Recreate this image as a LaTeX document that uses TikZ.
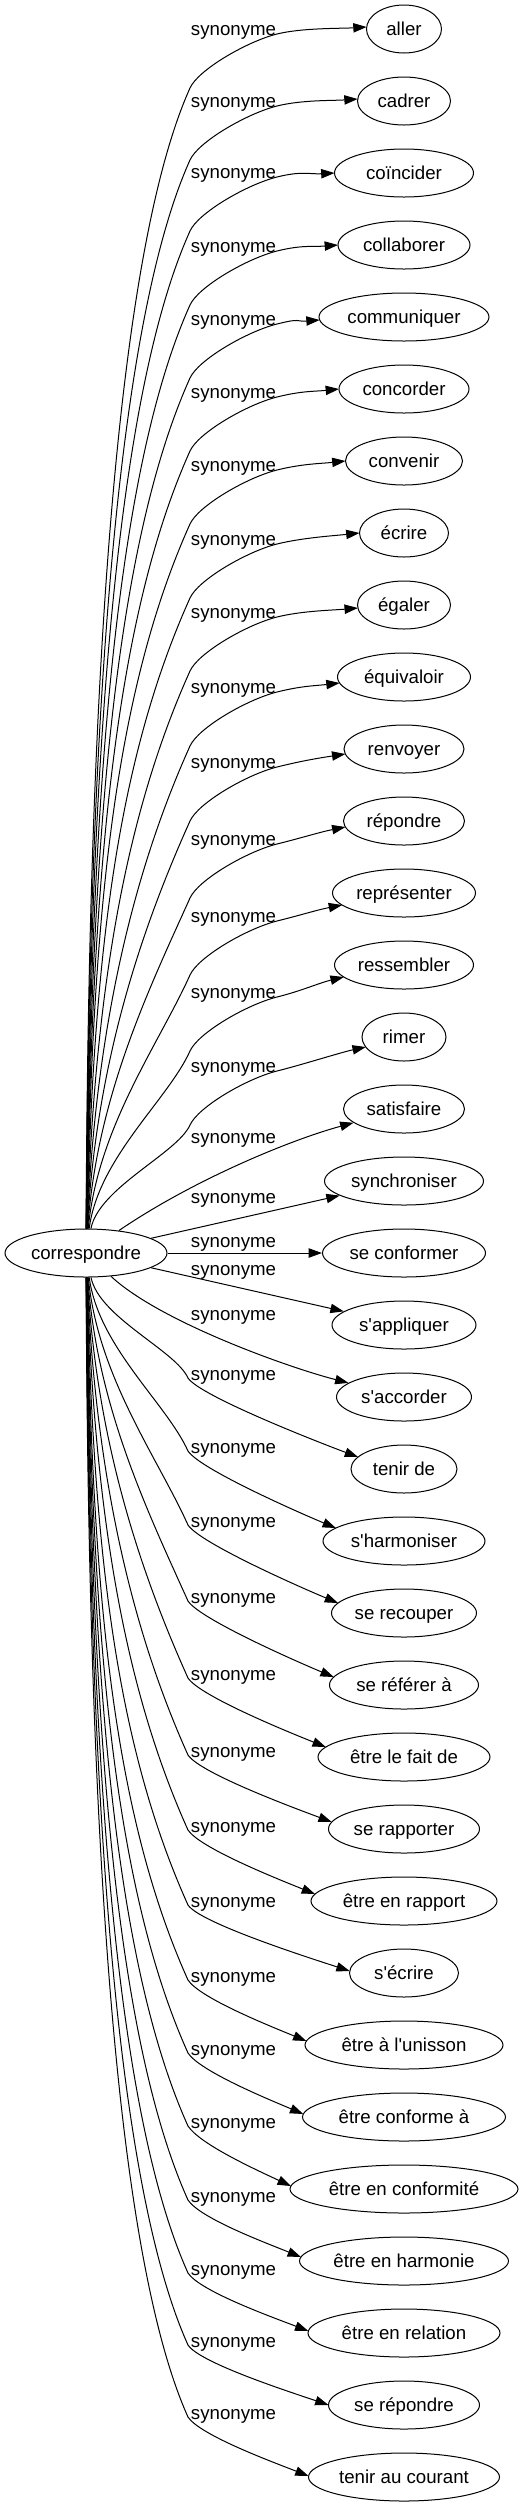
\documentclass[tikz,border=0pt]{standalone}
\usepackage{fontspec}
\newfontfamily\gfont{Liberation Sans}
\usetikzlibrary{arrows.meta,calc,shapes.geometric}
\tikzset{
  tgt/.style={draw, ellipse, minimum height=36pt, inner sep=0pt, line width=0.75pt,
    text height=11pt, text depth=2pt, font=\gfont\fontsize{14pt}{16pt}\selectfont},
  lbl/.style={anchor=base, inner sep=0pt, font=\gfont\fontsize{14pt}{16pt}\selectfont},
  synedge/.style={line width=0.75pt, -{Triangle[length=10pt,width=7pt]}}
}
% upper synonym: name, y_t, width(px), text, label y, x0, tip dy
\newcommand\synU[7]{%
  \pgfmathsetmacro\eW{#3*0.75}%
  \node[tgt, minimum width=\eW pt] (#1) at (404,#2) {#4};
  \pgfmathsetmacro\eLb{#5+5}%
  \node[lbl] (#1l) at (233.5,\eLb) {synonyme};
  \pgfmathsetmacro\eD{1171-#5}%
  \pgfmathsetmacro\eC{min(0.3*\eD,200)}%
  \pgfmathsetmacro\ePy{1229-0.4*\eD}%
  \pgfmathsetmacro\eQx{190-0.41*\eC}%
  \pgfmathsetmacro\eQy{#5+58+0.91*\eC}%
  \pgfmathsetmacro\eAy{#5+58}%
  \pgfmathsetmacro\eAty{#5+39.8}%
  \pgfmathsetmacro\eBly{#5+11.5}%
  \pgfmathsetmacro\eBy{#5+4}%
  \pgfmathsetmacro\eBry{#5-2.25}%
  \pgfmathsetmacro\eTx{-#3/2*sqrt(1-(#7/24)*(#7/24))}%
  \pgfmathsetmacro\eTy{#2+(#7)}%
  \pgfmathsetmacro\eS{0.8*(\eTy-\eBy)/(404+\eTx-277)}%
  \pgfmathsetmacro\eRx{\eTx-25}%
  \pgfmathsetmacro\eRy{#7-25*\eS}%
  \draw[synedge] (c) .. controls (#6,\ePy) and (\eQx,\eQy) .. (190,\eAy)
     .. controls (198.2,\eAty) and (247,\eBly) .. (277,\eBy)
     .. controls (302,\eBry) and ($(#1.center)+(\eRx,\eRy)$) .. ($(#1.center)+(\eTx,#7)$);
}
% lower synonym
\newcommand\synL[7]{%
  \pgfmathsetmacro\eW{#3*0.75}%
  \node[tgt, minimum width=\eW pt] (#1) at (404,#2) {#4};
  \pgfmathsetmacro\eLb{#5+5}%
  \node[lbl] (#1l) at (233.5,\eLb) {synonyme};
  \pgfmathsetmacro\eD{#5+3-1277}%
  \pgfmathsetmacro\eC{min(0.3*\eD,200)}%
  \pgfmathsetmacro\ePy{1277+0.4*\eD}%
  \pgfmathsetmacro\eQx{188-0.41*\eC}%
  \pgfmathsetmacro\eQy{#5+3-0.91*\eC}%
  \pgfmathsetmacro\eAy{#5+3}%
  \pgfmathsetmacro\eAty{#5+21.3}%
  \pgfmathsetmacro\eTx{-#3/2*sqrt(1-(#7/24)*(#7/24))}%
  \pgfmathsetmacro\eTy{#2+(#7)}%
  \pgfmathsetmacro\eS{0.8*(\eTy-\eAy)/(404+\eTx-188)}%
  \pgfmathsetmacro\eRx{\eTx-35}%
  \pgfmathsetmacro\eRy{#7-35*\eS}%
  \draw[synedge] (c) .. controls (#6,\ePy) and (\eQx,\eQy) .. (188,\eAy)
     .. controls (200.1,\eAty) and ($(#1.center)+(\eRx,\eRy)$) .. ($(#1.center)+(\eTx,#7)$);
}
% plain synonym node + label only
\newcommand\synN[5]{%
  \pgfmathsetmacro\eW{#3*0.75}%
  \node[tgt, minimum width=\eW pt] (#1) at (404,#2) {#4};
  \pgfmathsetmacro\eLb{#5+5}%
  \node[lbl] (#1l) at (233.5,\eLb) {synonyme};
}
\begin{document}
\begin{tikzpicture}[x=0.75pt,y=-0.75pt]
\fill[white] (0,0) rectangle (528,2507);
\useasboundingbox (0,0) rectangle (528,2507);
\node[tgt, minimum width=121.5pt] (c) at (86,1253) {correspondre};
\synU{n0}{29}{75}{aller}{30}{88}{-2}
\synU{n1}{101}{93}{cadrer}{102}{88.8}{-2}
\synU{n2}{173}{139}{coïncider}{173}{89.6}{0}
\synU{n3}{245}{132}{collaborer}{247}{90.4}{0}
\synU{n4}{317}{170}{communiquer}{320}{91.2}{3}
\synU{n5}{389}{130}{concorder}{393}{92}{0}
\synU{n6}{461}{117}{convenir}{466}{92.8}{0}
\synU{n7}{533}{89}{écrire}{540}{93.6}{0}
\synU{n8}{605}{93}{égaler}{613}{94.4}{3}
\synU{n9}{677}{133}{équivaloir}{688}{95.2}{6}
\synU{n10}{749}{120}{renvoyer}{763}{96}{5}
\synU{n11}{821}{121}{répondre}{840}{96.8}{6}
\synU{n12}{893}{143}{représenter}{917}{97.6}{12}
\synU{n13}{965}{139}{ressembler}{993}{98.4}{12}
\synU{n14}{1037}{84}{rimer}{1067}{99.2}{10}
\synN{n15}{1109}{121}{satisfaire}{1138}
\draw[synedge] (c) .. controls (193,1180) and (290,1140) .. (n15);
\synN{n16}{1181}{159}{synchroniser}{1198}
\draw[synedge] (c) -- (n16);
\synN{n17}{1253}{163}{se conformer}{1242}
\draw[synedge] (c) -- (n17);
\synN{n18}{1325}{144}{s'appliquer}{1270}
\draw[synedge] (c) -- (n18);
\synN{n19}{1397}{135}{s'accorder}{1315}
\draw[synedge] (c) .. controls (160,1322) and (290,1368) .. (n19);
\synL{n20}{1469}{106}{tenir de}{1375}{99.2}{-12}
\synL{n21}{1541}{162}{s'harmoniser}{1448}{98.4}{-13}
\synL{n22}{1613}{145}{se recouper}{1522}{97.6}{-10}
\synL{n23}{1685}{149}{se référer à}{1598}{96.8}{-8}
\synL{n24}{1757}{172}{être le fait de}{1675}{96}{-10}
\synL{n25}{1829}{151}{se rapporter}{1752}{95.2}{-7}
\synL{n26}{1901}{186}{être en rapport}{1827}{94.4}{-7}
\synL{n27}{1973}{109}{s'écrire}{1902}{93.6}{-2}
\synL{n28}{2045}{198}{être à l'unisson}{1977}{92.8}{-4}
\synL{n29}{2117}{203}{être conforme à}{2050}{92}{-3}
\synL{n30}{2189}{228}{être en conformité}{2123}{91.2}{-3}
\synL{n31}{2261}{209}{être en harmonie}{2197}{90.4}{-4}
\synL{n32}{2333}{192}{être en relation}{2270}{89.6}{-2}
\synL{n33}{2405}{151}{se répondre}{2342}{88.8}{0}
\synL{n34}{2477}{191}{tenir au courant}{2414}{88}{-1}
\end{tikzpicture}
\end{document}
